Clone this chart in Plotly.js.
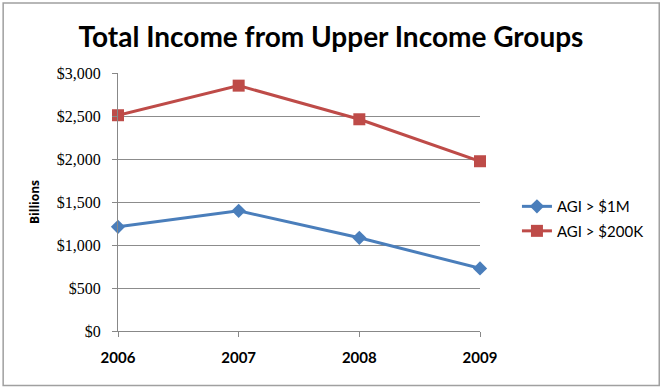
<!DOCTYPE html>
<html>
<head>
<meta charset="utf-8">
<script src="https://cdn.plot.ly/plotly-3.0.1.min.js"></script>
<style>
html,body{margin:0;padding:0;background:#fff;overflow:hidden;}
#chart{width:662px;height:388px;}
</style>
</head>
<body>
<div id="chart"></div>
<script>
const years = [2006, 2007, 2008, 2009];
const agi1M = [1211, 1397, 1084, 728];
const agi200K = [2509, 2853, 2462, 1974];
const yTickVals = [0, 500, 1000, 1500, 2000, 2500, 3000];
const yTickText = ['$0', '$500', '$1,000', '$1,500', '$2,000', '$2,500', '$3,000'];
const xTickText = ['2006', '2007', '2008', '2009'];

const W = 662, H = 388;
const L = 117.5, R = 182, T = 72.7, B = 57;
const pw = W - L - R, ph = H - T - B;
function px(x){ return (x - L) / pw; }
function py(y){ return (H - B - y) / ph; }

const traces = [
  {
    x: years, y: agi1M, name: 'AGI > $1M', type: 'scatter', mode: 'lines+markers',
    line: {color: '#4A7EBB', width: 3},
    marker: {symbol: 'diamond', size: 11, color: '#4A7EBB'},
    cliponaxis: false, legendgroup: 'a'
  },
  {
    x: years, y: agi200K, name: 'AGI > $200K', type: 'scatter', mode: 'lines+markers',
    line: {color: '#BE4B48', width: 3},
    marker: {symbol: 'square', size: 12, color: '#BE4B48'},
    cliponaxis: false, legendgroup: 'b'
  }
];

const layout = {
  width: W, height: H,
  margin: {l: L, r: R, t: T, b: B, pad: 0, autoexpand: false},
  paper_bgcolor: '#fff', plot_bgcolor: '#fff',
  title: {
    text: '<b>Total Income from Upper Income Groups</b>',
    font: {family: 'Lato, Open Sans, sans-serif', size: 28, color: '#000'},
    x: 0.5, xanchor: 'center', y: 1 - 37/H, yanchor: 'middle'
  },
  xaxis: {
    type: 'linear', range: [2006, 2009],
    tickvals: years, ticktext: xTickText,
    showgrid: false, zeroline: false,
    showline: true, linecolor: '#888', linewidth: 1,
    ticks: 'outside', ticklen: 5, tickcolor: '#888',
    tickfont: {family: 'Lato, Open Sans, sans-serif', size: 15, color: '#000', weight: 'bold'},
    ticklabelstandoff: 8
  },
  yaxis: {
    range: [0, 3000],
    tickvals: yTickVals, ticktext: yTickText,
    showgrid: true, gridcolor: '#8c8c8c', gridwidth: 1,
    zeroline: false,
    showline: true, linecolor: '#888', linewidth: 1,
    ticks: 'outside', ticklen: 5, tickcolor: '#888',
    tickfont: {family: 'Liberation Serif, serif', size: 16, color: '#000'},
    ticklabelstandoff: 8,
    title: {text: '<b>Billions</b>', font: {family: 'Open Sans, Liberation Sans, sans-serif', size: 12, color: '#000'}, standoff: 14}
  },
  showlegend: true,
  legend: {
    x: px(517), y: py(247), xanchor: 'left', yanchor: 'bottom',
    font: {family: 'Lato, Open Sans, sans-serif', size: 15, color: '#000'},
    bgcolor: 'rgba(0,0,0,0)', tracegroupgap: 2, itemwidth: 30
  },
  shapes: [
    {type: 'rect', xref: 'paper', yref: 'paper',
     x0: px(2.5), x1: px(659.5), y0: py(2.5), y1: py(385.5),
     line: {color: '#a0a0a0', width: 1.5}, fillcolor: 'rgba(0,0,0,0)'}
  ]
};

Plotly.newPlot('chart', traces, layout, {displayModeBar: false, staticPlot: true});
</script>
</body>
</html>
